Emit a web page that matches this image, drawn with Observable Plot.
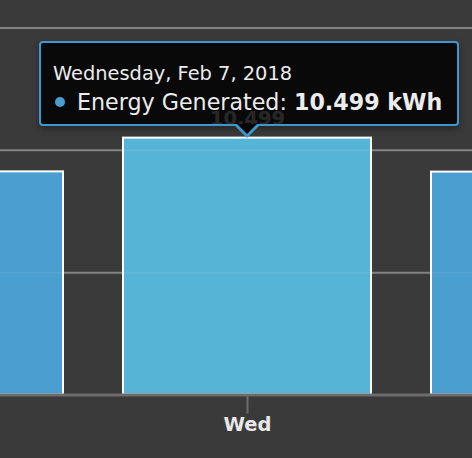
<!DOCTYPE html>
<html><head><meta charset="utf-8">
<script src="https://cdn.jsdelivr.net/npm/d3@7"></script>
<script src="https://cdn.jsdelivr.net/npm/@observablehq/plot@0.6"></script>
<style>
html,body{margin:0;padding:0;background:#3a3a3b;}
#wrap{position:relative;width:472px;height:458px;overflow:hidden;background:#3a3a3b;}
#wrap svg{display:block;}
.tip{position:absolute;box-sizing:border-box;width:420px;height:85px;background:rgba(0,0,0,0.84);border:2px solid #3b98cf;border-radius:4px;color:#ececec;font-family:"DejaVu Sans",sans-serif;box-shadow:0 3px 6px rgba(0,0,0,0.35);}
.tip .l1{position:absolute;left:12px;top:21px;font-size:19.4px;line-height:19px;white-space:nowrap;}
.tip .l2{position:absolute;left:36px;top:48px;font-size:22.2px;line-height:22px;white-space:nowrap;}
.tip .dot{position:absolute;left:14px;top:54px;width:10px;height:10px;border-radius:50%;background:#4a9fd0;}
.arrow-o,.arrow-i{position:absolute;width:0;height:0;border-left:13px solid transparent;border-right:13px solid transparent;}
.arrow-o{border-top:13px solid #3b98cf;}
.arrow-i{border-left-width:10px;border-right-width:10px;border-top:10px solid #050505;}
</style></head><body><div id="wrap"></div>
<script>
const days = ["Tue", "Wed", "Thu"];
const dates = ["Tuesday, Feb 6, 2018", "Wednesday, Feb 7, 2018", "Thursday, Feb 8, 2018"];
const energy = [9.12, 10.499, 9.11];
const gridTicks = [5, 10, 15];
const highlighted = "Wed";
const seriesName = "Energy Generated";
const unit = "kWh";

const data = days.map((d, i) => ({day: d, date: dates[i], value: energy[i]}));
const hi = data.filter(d => d.day === highlighted);
const rest = data.filter(d => d.day !== highlighted);
const font = "DejaVu Sans";

const chart = Plot.plot({
  width: 472, height: 458,
  marginLeft: 0, marginRight: 0, marginTop: 27.5, marginBottom: 63.5,
  style: {background: "transparent", overflow: "hidden"},
  x: {type: "band", domain: days, range: [-185, 679], paddingInner: 60 / 308, paddingOuter: 0, align: 0.5, axis: null, label: null},
  y: {domain: [0, 15], axis: null},
  marks: [
    Plot.ruleY(gridTicks, {stroke: "#7a7a7a", strokeWidth: 2}),
    Plot.barY(rest, {x: "day", y: "value", fill: "#4a9fd0", stroke: "white", strokeWidth: 2}),
    Plot.barY(hi, {x: "day", y: "value", fill: "#56b4d7", stroke: "white", strokeWidth: 2}),
    Plot.ruleY(gridTicks, {stroke: "white", strokeOpacity: 0.07, strokeWidth: 2}),
    Plot.text(hi, {x: "day", y: "value", text: d => d.value.toFixed(3), dy: -13, lineAnchor: "bottom", fill: "#f0f0f0", fontSize: 19.5, fontWeight: "bold", fontFamily: font}),
    Plot.ruleY([0], {stroke: "#6c6c6c", strokeWidth: 3}),
    Plot.axisX({ticks: [highlighted], label: null, tickSize: 19, tickPadding: 3, stroke: "#6c6c6c", strokeWidth: 2, fill: "#e8e8e8", fontSize: 19.5, fontWeight: "bold", fontFamily: font})
  ]
});
const wrap = document.getElementById("wrap");
wrap.appendChild(chart);

// tooltip positioned from the chart's scales
const xs = chart.scale("x"), ys = chart.scale("y");
const d = hi[0];
const cx = xs.apply(d.day) + xs.bandwidth / 2;
const ty = ys.apply(d.value);
const tipBottom = ty - 12;
const tip = document.createElement("div");
tip.className = "tip";
tip.style.left = (cx - 208) + "px";
tip.style.top = (tipBottom - 85) + "px";
tip.innerHTML = `<div class="l1">${d.date}</div><div class="dot"></div><div class="l2">${seriesName}: <b>${d.value.toFixed(3)} ${unit}</b></div>`;
wrap.appendChild(tip);
const ao = document.createElement("div");
ao.className = "arrow-o";
ao.style.left = (cx - 13) + "px";
ao.style.top = (tipBottom - 1) + "px";
wrap.appendChild(ao);
const ai = document.createElement("div");
ai.className = "arrow-i";
ai.style.left = (cx - 10) + "px";
ai.style.top = (tipBottom - 2) + "px";
wrap.appendChild(ai);
</script></body></html>
